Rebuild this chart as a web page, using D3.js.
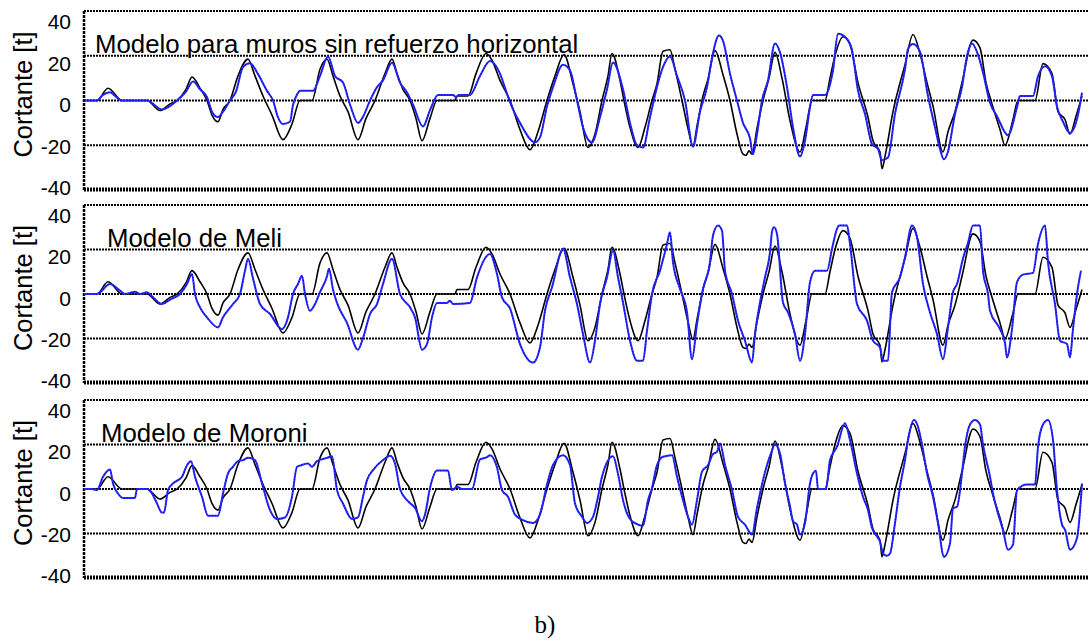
<!DOCTYPE html>
<html>
<head>
<meta charset="utf-8">
<script src="https://cdn.jsdelivr.net/npm/d3@7"></script>
<style>
  html, body { margin: 0; padding: 0; background: #fff; }
  svg { display: block; }
</style>
</head>
<body>
<svg id="chart" width="1089" height="642"></svg>
<script>
// Shear history, pairs of [time step, shear in t]
const ensayo = [[0,0],[13,0],[24,5.5],[38,0],[63,0],[76,-4.5],[86,-1.5],[93,0],[102,5],[108,10.5],[116,5.5],[123,0],[128,-6.5],[134,-9.5],[139,-4],[146,0],[154,11],[164,18.5],[171,11],[179,2],[188,-6.5],[199,-17.5],[208,-10.5],[216,0],[228,0],[236,14],[243,18.5],[249,11],[256,2],[264,-5],[274,-17.5],[282,-8],[291,0],[301,12],[308,18.5],[313,12],[319,5],[326,0],[332,-8],[338,-18],[346,-8],[353,0],[371,0],[373,2],[384,2],[392,12],[402,21],[408,18],[416,9],[426,0],[436,-13],[446,-22],[454,-14],[463,0],[471,11],[480,20.5],[489,7.5],[496,-5],[504,-21],[511,-15],[518,0],[524,11],[528,21],[536,9],[540,0],[546,-12],[554,-21],[561,-12],[568,0],[573,7.5],[579,22],[586,22.7],[591,14],[598,0],[604,-12.5],[609,-20.5],[613,-11.5],[619,2],[624,9.5],[631,22.3],[639,11.5],[646,0],[653,-15],[659,-24],[662,-24.5],[665,-22.5],[668,-24],[673,-12.5],[679,0],[685,10],[691,21.5],[698,10],[706,-9],[716,-23],[722,-12],[728,0],[741,0],[746,10],[751,20],[759,28.5],[766,25],[774,8],[784,-7.5],[789,-18],[796,-23],[798,-30.5],[801,-25],[809,-5],[821,16],[829,29.5],[836,21],[843,8],[849,-2.5],[859,-23],[864,-14],[871,-5],[878,8],[889,27],[896,23.5],[902,8],[908,-1.5],[916,-13],[921,-20],[929,-8.5],[934,0],[951,0],[959,16.5],[968,12],[974,-5],[981,-8.5],[986,-15],[992,-7],[998,2]];

const modeloSinRefuerzo = [[0,0],[13,0],[19,2.5],[26,3.7],[31,2],[38,0],[63,0],[78,-4],[93,0],[102,4],[109,8.5],[116,5],[123,1.5],[128,-5],[134,-7.4],[139,-5],[146,0],[152,4],[159,15],[166,16.6],[174,11.8],[183,4.3],[189,0],[194,-7.5],[199,-10.5],[206,-9.5],[209,-2],[213,2.6],[216,4.4],[229,4.4],[236,11],[244,19.7],[251,11],[259,8],[266,-1.8],[274,-10],[279,-7.3],[286,0],[293,6],[299,9],[308,16.9],[316,8],[323,3.6],[329,-1.8],[339,-11.6],[346,-4.3],[354,2.5],[369,2.5],[372,1.5],[375,2.5],[386,2.5],[396,11],[406,17.6],[416,12],[423,3],[429,-4],[436,-10],[451,-18.7],[456,-16.5],[463,-2.6],[469,6],[479,16],[486,13.5],[493,0],[499,-12],[508,-18.7],[516,-7.5],[523,5],[529,17],[539,5],[546,-10],[553,-20],[559,-21],[566,-7.5],[574,7.8],[579,15],[586,19.7],[593,11],[601,0],[609,-20.6],[616,-5],[623,6],[628,19],[635,29],[639,26.7],[646,12],[653,0],[659,-10],[666,-17],[669,-24],[673,-15],[678,0],[684,9],[691,25.5],[696,21.5],[703,6],[709,-12],[716,-25],[721,-18],[726,-3],[729,2.5],[741,2.5],[749,13.5],[754,29.8],[763,27.5],[768,22.6],[774,4.4],[781,-6],[788,-19.5],[794,-21.7],[798,-26.7],[804,-25.5],[811,-6],[821,14],[824,23],[829,25.2],[836,21.7],[844,2],[851,-12],[856,-21.7],[860,-26.3],[864,-22.8],[871,-6],[878,6],[883,20],[888,25.5],[894,20.5],[899,12.5],[906,-1],[913,-7],[924,-15.5],[933,-3],[936,2],[949,2],[954,10.8],[961,15.3],[968,10.8],[973,-2.7],[979,-9.5],[986,-14.5],[993,-8.3],[998,3.5]];

const modeloMeli = [[0,0],[13,0],[26,4.5],[36,1.5],[41,0],[51,1],[56,0],[63,0.8],[68,-1],[78,-4.5],[86,-2.5],[96,0],[103,4.5],[108,9],[111,0],[116,-6],[123,-10.5],[134,-15],[139,-10.5],[149,-4.5],[156,0],[161,10.5],[164,15.8],[169,7],[176,-4.5],[186,-9],[198,-15.8],[204,-10.5],[209,0],[214,4.5],[218,8.2],[221,0],[226,-7.5],[231,-4.5],[236,0.8],[243,8],[245,11.3],[249,2],[253,-4],[263,-13],[274,-25],[279,-19.8],[286,-9],[293,-4.5],[299,4.5],[308,15.8],[316,0],[326,-6],[331,-10.5],[338,-25],[343,-22.5],[348,-10.5],[353,-4],[363,-4],[366,-3],[369,-4.5],[386,-4],[393,7.5],[406,18],[413,9],[418,-1.5],[426,-6.5],[436,-22.5],[449,-30.8],[456,-24],[461,-7.5],[468,3],[479,20.3],[486,7.5],[493,-4.5],[499,-18],[506,-30.8],[511,-21],[516,-4.5],[523,7.5],[529,19.5],[534,7.5],[539,-3.8],[546,-21],[553,-30],[559,-30],[563,-16.5],[568,0],[576,10.5],[583,22.5],[586,27.8],[589,14.3],[596,2.3],[603,-8.2],[608,-29.3],[613,-13.5],[619,2.3],[626,14.3],[629,26.3],[634,30.8],[638,28.5],[641,10.5],[648,0],[654,-12],[661,-21],[668,-30.8],[671,-18],[676,-3.8],[681,7.5],[686,18.8],[688,28],[690,30],[693,27],[699,-3.8],[704,-8.3],[711,-18],[716,-30],[721,-18],[726,5.3],[731,10.5],[743,10.5],[748,20.3],[753,29.3],[755,30.8],[763,30.8],[766,22.5],[773,-4.5],[783,-12],[789,-21],[796,-24],[799,-30],[804,-30],[808,0.8],[816,7.5],[821,16.5],[828,30.8],[833,25.5],[839,4.5],[846,-8.3],[853,-18],[859,-29.3],[864,-15],[869,0.8],[873,4.5],[879,16],[884,23],[889,30.8],[896,30.8],[899,10.5],[904,0],[906,-7.5],[916,-15.8],[921,-22],[923,-28.5],[928,-15.8],[933,5.3],[939,8.7],[949,9.5],[954,22.5],[961,30.8],[964,14.3],[971,-4.5],[976,-21],[983,-22.5],[986,-28.5],[989,-15.8],[993,0],[997,10.5]];

const modeloMoroni = [[0,0],[8,0],[13,-0.5],[19,5.5],[26,8.8],[29,2.5],[34,-2],[39,-4],[51,-4],[53,0],[63,0],[68,-2],[73,-6.5],[78,-10.6],[80,-10.6],[84,-0.5],[89,2.5],[98,5.5],[103,10.7],[107,12.5],[111,5.5],[118,-3.5],[124,-12],[134,-12],[139,-2],[144,7],[149,10],[154,12.5],[159,13],[164,14],[171,13],[178,2.5],[186,-9.5],[193,-13.5],[201,-12.8],[208,-3.5],[213,10],[216,10.5],[224,11.5],[228,10],[233,12.5],[243,14],[248,14.7],[253,-0.5],[259,-6.5],[268,-13.5],[274,-12.8],[279,-3.5],[283,4],[289,8.5],[299,13],[306,15],[311,11.5],[316,0],[324,-5.5],[331,-8.5],[338,-14.5],[341,-11.5],[346,0.5],[353,8.3],[364,8.3],[368,-0.5],[373,1],[378,0],[388,0],[396,13.3],[403,14.3],[406,15.2],[413,9.7],[418,-0.5],[424,-3.5],[431,-11.5],[439,-14],[449,-15.3],[456,-11.5],[463,2],[469,10.8],[479,15.2],[486,10.8],[491,-6.5],[498,-12.5],[503,-15.3],[509,-12.5],[514,-3.5],[518,5.5],[529,14.7],[534,6.8],[539,-5],[546,-13.5],[554,-16],[559,-16.5],[564,-5],[568,0.5],[573,10.8],[579,14.5],[588,15.2],[593,5.5],[599,-5],[604,-12.5],[608,-16],[613,-5],[618,7.8],[624,10.7],[629,15.7],[633,16.7],[636,20.5],[641,10.8],[648,-0.5],[654,-12.5],[661,-16],[668,-20.5],[673,-8.5],[678,2],[683,10.8],[687,16],[691,20],[696,16],[701,2.5],[706,-7.8],[709,-14.5],[713,-16],[716,-20.5],[721,-15.3],[726,2.5],[729,7],[732,8.2],[734,0],[742,0],[746,13],[753,19],[761,29.5],[766,22],[773,7],[779,-3.5],[784,-9.5],[788,-17.5],[793,-21.3],[796,-23.6],[799,-29],[803,-30],[806,-29],[811,-15.3],[816,1],[821,13],[824,22],[830,31],[834,28],[838,20],[843,7],[849,-3.5],[854,-15.3],[860,-30.5],[866,-24.5],[869,-8.7],[873,-8],[878,7],[881,19],[886,29],[891,31],[896,29],[899,20],[906,5.5],[909,-2],[914,-11],[919,-18.5],[924,-27.3],[929,-25],[933,-0.5],[943,2],[951,2],[954,19],[959,29],[964,31],[969,22],[973,-0.5],[978,-16],[981,-18.3],[986,-27.3],[993,-22],[998,2.5]];

const yTicks = [-40, -20, 0, 20, 40];
const gridValues = [-20, 0, 20];
const panelTitles = ["Modelo para muros sin refuerzo horizontal", "Modelo de Meli", "Modelo de Moroni"];
const yTitle = "Cortante [t]";
const caption = "b)";

const models = [modeloSinRefuerzo, modeloMeli, modeloMoroni];

// panel frames (pixel layout)
const layout = [
  { top: 11,  bottom: 190, titleX: 95 },
  { top: 205, bottom: 383, titleX: 107 },
  { top: 400, bottom: 578, titleX: 101 }
];
const left = 84, right = 1088;

const svg = d3.select("#chart");
const x = d3.scaleLinear().domain([0, 1004]).range([left, right]);

const dots = "2,1";
const sans = "'Liberation Sans', Arial, sans-serif";

layout.forEach((p, i) => {
  const y = d3.scaleLinear().domain([-40, 40]).range([p.bottom, p.top]);
  const g = svg.append("g");

  // horizontal reference lines
  g.selectAll("line.grid").data(gridValues).join("line")
    .attr("class", "grid")
    .attr("x1", left).attr("x2", right)
    .attr("y1", d => y(d)).attr("y2", d => y(d))
    .attr("stroke", "#000").attr("stroke-width", 2)
    .attr("stroke-dasharray", dots);

  // frame: top, bottom, left
  g.append("line").attr("x1", left).attr("x2", right + 1)
    .attr("y1", y(40)).attr("y2", y(40))
    .attr("stroke", "#000").attr("stroke-width", 2).attr("stroke-dasharray", dots);
  g.append("line").attr("x1", left).attr("x2", right + 1)
    .attr("y1", y(-40) - 0.5).attr("y2", y(-40) - 0.5)
    .attr("stroke", "#000").attr("stroke-width", 4).attr("stroke-dasharray", dots);
  g.append("line").attr("x1", left).attr("x2", left)
    .attr("y1", y(40)).attr("y2", y(-40))
    .attr("stroke", "#000").attr("stroke-width", 2.5).attr("stroke-dasharray", "3,1");

  // tick labels sit on a slightly compressed scale
  const yl = d3.scaleLinear().domain([-40, 40]).range([p.bottom - 2, p.top + 11]);
  const axis = d3.axisLeft(yl).tickValues(yTicks).tickSize(0).tickPadding(13)
    .tickFormat(d => String(d));
  const ag = g.append("g").attr("transform", `translate(${left},0)`).call(axis);
  ag.select(".domain").remove();
  ag.selectAll("text")
    .attr("font-family", sans)
    .attr("font-size", 21).attr("fill", "#000");

  // y title
  g.append("text")
    .attr("transform", `translate(32,${y(0) - 6}) rotate(-90)`)
    .attr("text-anchor", "middle")
    .attr("font-family", sans)
    .attr("font-size", 25.5).attr("fill", "#000")
    .text(yTitle);

  // panel title
  g.append("text")
    .attr("x", p.titleX).attr("y", p.top + 41.5)
    .attr("font-family", sans)
    .attr("font-size", 25.8).attr("fill", "#000")
    .text(panelTitles[i]);

  const line = d3.line().x(d => x(d[0])).y(d => y(d[1])).curve(d3.curveMonotoneX);

  // measured response
  g.append("path").datum(ensayo)
    .attr("d", line).attr("fill", "none")
    .attr("stroke", "#000").attr("stroke-width", 1.6)
    .attr("stroke-linejoin", "round");

  // model response
  g.append("path").datum(models[i])
    .attr("d", line).attr("fill", "none")
    .attr("stroke", "#2a2aff").attr("stroke-width", 2)
    .attr("stroke-linejoin", "round");
  g.append("path").datum(models[i])
    .attr("d", line).attr("fill", "none")
    .attr("stroke", "#0a0ac8").attr("stroke-width", 1.2)
    .attr("stroke-dasharray", "1,2")
    .attr("stroke-linejoin", "round");
});

svg.append("text")
  .attr("x", 545).attr("y", 633)
  .attr("text-anchor", "middle")
  .attr("font-family", "'Liberation Serif', 'Times New Roman', serif")
  .attr("font-size", 25).attr("fill", "#000")
  .text(caption);
</script>
</body>
</html>
